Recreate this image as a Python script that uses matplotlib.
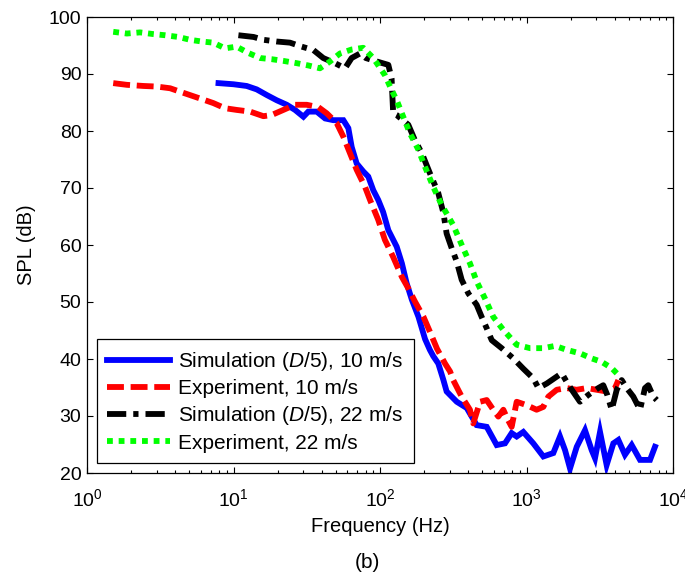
import matplotlib
matplotlib.use("Agg")
import matplotlib.pyplot as plt
from matplotlib.ticker import LogLocator, NullFormatter

plt.rcParams['font.family'] = ['Liberation Sans', 'DejaVu Sans']
plt.rcParams['mathtext.fontset'] = 'custom'
plt.rcParams['mathtext.rm'] = 'Liberation Sans'
plt.rcParams['mathtext.it'] = 'Liberation Sans:italic'

# Simulation (D/5), 10 m/s
f_sim10 = [7.9, 10, 12.3, 14.4, 16.9, 19.7, 23.1, 26.3, 30, 32.4, 37, 42.2, 48, 56.2,
           60.8, 64.1, 69.3, 76.9, 83.2, 90, 97.3, 105, 114, 130, 141, 152, 165, 183,
           203, 219, 231, 250, 271, 285, 334, 391, 457, 535, 626, 713, 792, 857, 951,
           1113, 1303, 1524, 1693, 1833, 1982, 2203, 2508, 2786, 2935, 3176, 3524,
           3916, 4236, 4700, 5224, 5955, 6970, 7535]
spl_sim10 = [88.4, 88.2, 87.9, 87.3, 86.3, 85.4, 84.6, 83.7, 82.5, 83.4, 83.4, 82.2,
             81.9, 81.9, 80.5, 77.2, 74.3, 72.9, 72.0, 69.6, 67.9, 65.8, 62.6, 59.7,
             56.8, 53.3, 50.4, 47.4, 43.5, 41.6, 40.5, 39.2, 36.3, 34.3, 32.5, 31.4,
             28.4, 28.1, 24.9, 25.2, 27.0, 26.4, 27.2, 25.2, 22.9, 23.5, 26.4, 24.0,
             20.8, 24.6, 27.5, 24.0, 22.6, 27.2, 21.4, 25.2, 25.8, 23.2, 24.9, 22.3,
             22.3, 24.6]

# Experiment, 10 m/s
f_exp10 = [1.51, 1.87, 2.43, 2.99, 3.69, 4.31, 5.05, 6.07, 7.28, 8.75, 10.5, 13, 16,
           18.2, 21.9, 26.3, 31.6, 37.9, 43.3, 50.6, 56.2, 62.4, 69.3, 79, 85.5, 97.3,
           108, 123, 141, 156, 173, 198, 219, 245, 278, 301, 316, 361, 411, 433, 482,
           535, 593, 642, 695, 740, 792, 857, 1003, 1172, 1303, 1410, 1608, 1880, 2197,
           2576, 3013, 3524, 4018, 4236]
spl_exp10 = [88.4, 88.1, 87.9, 87.8, 87.5, 86.9, 86.3, 85.6, 84.9, 84.0, 83.7, 83.4,
             82.6, 82.8, 83.7, 84.6, 84.6, 84.2, 83.1, 81.4, 79.0, 76.1, 73.2, 70.2,
             67.9, 64.4, 60.9, 57.9, 54.4, 52.4, 50.1, 47.4, 44.8, 41.8, 39.2, 37.8,
             36.3, 33.4, 31.1, 28.7, 32.5, 32.8, 31.1, 29.9, 31.1, 29.5, 28.1, 32.5,
             31.9, 31.1, 31.6, 33.4, 34.6, 34.9, 34.6, 34.9, 34.6, 34.3, 34.9, 36.3]

# Simulation (D/5), 22 m/s
f_sim22 = [10.8, 13.7, 16, 19.7, 24.3, 29.2, 35.1, 41, 49.3, 57.7, 64, 73, 80, 95, 114,
           120, 123, 130, 156, 173, 193, 219, 250, 271, 285, 309, 334, 361, 401, 457,
           494, 535, 579, 677, 813, 951, 1113, 1206, 1375, 1608, 1739, 1880, 2000, 2317,
           2641, 3090, 3342, 3560, 3816, 4130, 4466, 4830, 5358, 5955, 6440, 6780,
           7340, 7740]
spl_sim22 = [96.8, 96.5, 96.0, 95.7, 95.5, 94.8, 94.2, 92.8, 91.9, 91.0, 92.8, 93.6,
             92.8, 92.2, 91.6, 89.2, 83.1, 82.8, 81.1, 78.4, 76.1, 72.6, 69.1, 65.6,
             62.0, 59.4, 57.1, 53.9, 51.5, 49.5, 47.4, 45.4, 43.3, 41.9, 40.1, 38.3,
             36.6, 34.9, 35.7, 36.9, 37.5, 36.0, 34.9, 32.5, 33.7, 34.9, 35.4, 33.7,
             31.1, 34.6, 36.3, 34.9, 33.4, 31.1, 34.9, 35.4, 33.4, 32.8]

# Experiment, 22 m/s
f_exp22 = [1.51, 1.87, 2.30, 2.84, 3.41, 4.2, 5.05, 6.07, 7.28, 8.75, 10.5, 12.6, 15.2,
           18.2, 21.9, 27, 32.4, 38.9, 45.6, 53.3, 64.1, 76.9, 90, 108, 120, 130, 141,
           160, 183, 203, 231, 264, 316, 370, 411, 457, 521, 593, 695, 857, 1057, 1303,
           1567, 1880, 2317, 2786, 3260, 3816, 4350]
spl_exp22 = [97.4, 97.1, 97.3, 97.0, 96.8, 96.5, 96.0, 95.7, 95.5, 94.5, 94.8, 93.7,
             92.8, 92.6, 92.3, 91.9, 91.5, 91.0, 92.2, 93.6, 94.3, 94.6, 92.8, 89.8,
             87.2, 85.4, 83.1, 79.6, 76.7, 73.7, 70.2, 67.0, 63.5, 59.4, 56.8, 53.6,
             50.6, 47.4, 45.1, 42.5, 41.9, 41.9, 42.3, 41.6, 41.0, 40.1, 39.5, 38.4, 36.9]

yticks = [20, 30, 40, 50, 60, 70, 80, 90, 100]

fig = plt.figure(figsize=(6.85, 5.79), dpi=100)
ax = fig.add_axes([87 / 685, 1 - 473 / 579, 586 / 685, 456 / 579])

lw = 4.2
ax.plot(f_sim10, spl_sim10, color='#0000ff', lw=lw, solid_joinstyle='miter',
        label='Simulation ($\\it{D}$/5), 10 m/s')
ax.plot(f_exp10, spl_exp10, color='#ff0000', lw=lw, dashes=(2.9, 1.15),
        label='Experiment, 10 m/s')
ax.plot(f_sim22, spl_sim22, color='#000000', lw=lw, dashes=(3.3, 1.2, 0.9, 1.2),
        label='Simulation ($\\it{D}$/5), 22 m/s')
ax.plot(f_exp22, spl_exp22, color='#00ff00', lw=lw, dashes=(1.0, 1.0),
        label='Experiment, 22 m/s')

ax.set_xscale('log')
ax.set_xlim(1, 1e4)
ax.set_ylim(20, 100)
ax.set_yticks(yticks)
ax.xaxis.set_minor_locator(LogLocator(base=10, subs=range(2, 10)))
ax.xaxis.set_minor_formatter(NullFormatter())
ax.tick_params(which='both', direction='in', top=True, right=True,
               labelsize=14, width=0.8)
ax.tick_params(axis='x', which='major', pad=11)
ax.tick_params(axis='y', which='major', pad=4)
ax.tick_params(which='major', length=4)
ax.tick_params(which='minor', length=2.5)
for s in ax.spines.values():
    s.set_linewidth(0.9)

ax.set_xlabel('Frequency (Hz)', fontsize=14.5, labelpad=5)
ax.set_ylabel('SPL (dB)', fontsize=14.5, labelpad=9)

leg = ax.legend(loc='lower left', bbox_to_anchor=(0.017, 0.022), borderaxespad=0,
                fontsize=15, fancybox=False, framealpha=1, edgecolor='black',
                handlelength=3.0, handletextpad=0.4, labelspacing=0.3,
                borderpad=0.5)
leg.get_frame().set_linewidth(0.9)

fig.text(367 / 685, 1 - 562 / 579, '(b)', fontsize=15, ha='center', va='center')

fig.savefig('out.png', dpi=100)
